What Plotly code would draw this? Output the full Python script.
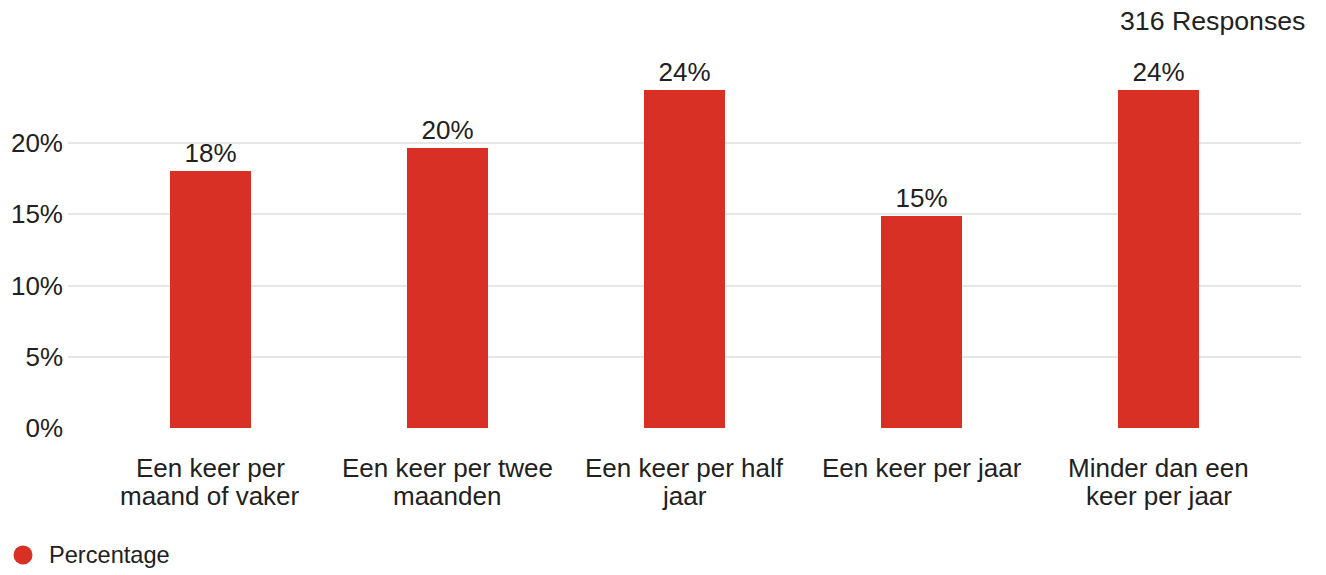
import plotly.graph_objects as go

categories = ["Een keer per maand of vaker", "Een keer per twee maanden",
              "Een keer per half jaar", "Een keer per jaar", "Minder dan een keer per jaar"]
label_line1 = ["Een keer per", "Een keer per twee", "Een keer per half", "Een keer per jaar", "Minder dan een"]
label_line2 = ["maand of vaker", "maanden", "jaar", "", "keer per jaar"]
counts = [57, 62, 75, 47, 75]
total_responses = 316
percent = [c / total_responses for c in counts]
pct_text = [f"{round(p*100)}%" for p in percent]
y_ticks = [0, 0.05, 0.10, 0.15, 0.20]
y_ticktext = ["0%", "5%", "10%", "15%", "20%"]
series_name = "Percentage"

RED = "#d93025"
TXT = "#212121"
FONT = "Liberation Sans, Arial, sans-serif"
OFF = 8  # page body margin compensation

fig = go.Figure()
fig.add_trace(go.Bar(
    x=list(range(len(categories))), y=percent, text=pct_text,
    textposition="outside", cliponaxis=False,
    textfont=dict(size=26, color=TXT, family=FONT),
    marker=dict(color=RED, line=dict(width=0)), width=0.342,
    name=series_name, showlegend=False, hoverinfo="skip",
))

for i in range(len(categories)):
    fig.add_annotation(x=i, y=0, xref="x", yref="paper", text=label_line1[i],
                       showarrow=False, yanchor="middle", xanchor="center", yshift=-40,
                       font=dict(size=26, color=TXT, family=FONT))
    if label_line2[i]:
        fig.add_annotation(x=i, y=0, xref="x", yref="paper", text=label_line2[i],
                           showarrow=False, yanchor="middle", xanchor="center", yshift=-68,
                           font=dict(size=26, color=TXT, family=FONT))

fig.add_annotation(xref="paper", yref="paper", x=1.0, y=1.0, xshift=6, yshift=39,
                   text=f"{total_responses} Responses", showarrow=False,
                   xanchor="right", yanchor="middle",
                   font=dict(size=26.7, color=TXT, family=FONT))

# legend: circle + text
fig.add_shape(type="circle", xref="paper", yref="paper", xsizemode="pixel", ysizemode="pixel",
              xanchor=0, yanchor=0, x0=-45 - 9.5, x1=-45 + 9.5, y0=-127 - 9.5, y1=-127 + 9.5,
              fillcolor=RED, line=dict(width=0))
fig.add_annotation(x=0, y=0, xref="paper", yref="paper", xshift=-21, yshift=-127,
                   text=series_name, showarrow=False, xanchor="left", yanchor="middle",
                   font=dict(size=23.6, color=TXT, family=FONT))

fig.update_layout(
    width=1326, height=575,
    margin=dict(l=68 - OFF, r=25 + OFF, t=60 - OFF, b=147 + OFF, pad=0),
    paper_bgcolor="white", plot_bgcolor="white",
    font=dict(family=FONT, color=TXT, size=26),
    bargap=0,
    xaxis=dict(range=[-0.6, 4.6], showticklabels=False, showgrid=False, zeroline=False,
               fixedrange=True, automargin=False),
    yaxis=dict(range=[0, (428 - 60) / 14.25 / 100], tickvals=y_ticks, ticktext=y_ticktext,
               showgrid=True, gridcolor="#e6e6e6", gridwidth=2, zeroline=False, automargin=False,
               ticklabelstandoff=4, tickfont=dict(size=26, color=TXT, family=FONT)),
    showlegend=False,
)

fig.write_html("out.html")
